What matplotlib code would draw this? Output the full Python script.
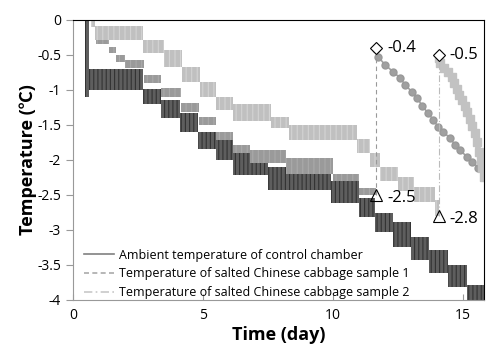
import numpy as np
import matplotlib.pyplot as plt
from matplotlib.lines import Line2D

plt.rcParams['font.family'] = ['Open Sans', 'Noto Sans CJK KR', 'DejaVu Sans']
plt.rcParams['hatch.linewidth'] = 0.8

# ambient temperature of control chamber: step bands (start day, low, high)
amb_start = [0.45, 0.6, 2.7, 3.4, 4.1, 4.8, 5.5, 6.15, 7.5, 9.9, 11.0, 11.6, 12.3, 13.0, 13.7, 14.4, 15.15]
amb_end = 15.8
amb_low = [-1.1, -1.0, -1.2, -1.4, -1.6, -1.85, -2.0, -2.21, -2.43, -2.62, -2.81, -3.03, -3.24, -3.43, -3.61, -3.81, -4.0]
amb_high = [0.0, -0.7, -0.98, -1.14, -1.33, -1.6, -1.67, -1.86, -2.1, -2.3, -2.55, -2.76, -2.89, -3.1, -3.29, -3.5, -3.79]

# sample 1 before freezing
s1_start = [0.9, 1.4, 1.65, 2.0, 2.75, 3.4, 4.15, 4.85, 5.5, 6.15, 6.8, 8.2, 10.0, 11.0]
s1_end = 11.65
s1_low = [-0.35, -0.47, -0.6, -0.69, -0.9, -1.1, -1.31, -1.5, -1.71, -1.9, -2.04, -2.2, -2.3, -2.5]
s1_high = [-0.1, -0.38, -0.5, -0.57, -0.79, -0.97, -1.19, -1.39, -1.6, -1.79, -1.86, -1.97, -2.2, -2.4]

# sample 2 before freezing
s2_start = [0.7, 0.85, 2.7, 3.5, 4.2, 4.9, 5.5, 6.15, 7.6, 8.3, 10.9, 11.4, 11.8, 12.5, 13.1, 13.9]
s2_end = 14.05
s2_low = [-0.1, -0.28, -0.47, -0.67, -0.89, -1.1, -1.29, -1.45, -1.55, -1.71, -1.9, -2.1, -2.3, -2.45, -2.6, -2.8]
s2_high = [0.0, -0.08, -0.29, -0.43, -0.67, -0.89, -1.1, -1.2, -1.39, -1.5, -1.7, -1.9, -2.1, -2.24, -2.39, -2.57]

# after freezing
s1_after_day = [11.65, 11.73, 12.0, 12.3, 12.58, 12.77, 13.04, 13.23, 13.42, 13.65, 13.85, 14.04,
                14.23, 14.5, 14.69, 14.88, 15.15, 15.35, 15.58, 15.8]
s1_after_temp = [-0.42, -0.53, -0.64, -0.74, -0.83, -0.93, -1.03, -1.11, -1.23, -1.33, -1.43, -1.53,
                 -1.6, -1.69, -1.79, -1.86, -1.96, -2.03, -2.11, -2.22]
s2_after_day = [14.05, 14.1, 14.25, 14.4, 14.55, 14.65, 14.75, 14.85, 14.95, 15.05, 15.15, 15.25,
                15.35, 15.45, 15.52, 15.6, 15.67, 15.73, 15.8]
s2_after_temp = [-0.55, -0.62, -0.68, -0.75, -0.82, -0.9, -0.98, -1.07, -1.15, -1.23, -1.32, -1.42,
                 -1.52, -1.62, -1.75, -1.88, -2.0, -2.12, -2.25]

freeze_day = [11.65, 14.05]
freeze_temp = [-0.4, -0.5]
super_temp = [-2.5, -2.8]

labels = ['Ambient temperature of control chamber',
          'Temperature of salted Chinese cabbage sample 1',
          'Temperature of salted Chinese cabbage sample 2']


def band(ax, start, end, low, high, face, edge, hatch):
    x = np.append(start, end)
    lo = np.append(low, low[-1])
    hi = np.append(high, high[-1])
    ax.fill_between(x, lo, hi, step='post', facecolor=face, edgecolor=edge,
                    hatch=hatch, linewidth=0)


fig = plt.figure(figsize=(4.96, 3.57), dpi=100)
ax = fig.add_axes([0.147, 0.160, 0.829, 0.784])

band(ax, amb_start, amb_end, amb_low, amb_high, '#5e5e5e', '#333333', '||||')
band(ax, s1_start, s1_end, s1_low, s1_high, '#9a9a9a', '#aaaaaa', '|||')
band(ax, s2_start, s2_end, s2_low, s2_high, '#c0c0c0', '#d4d4d4', '|||')

ax.plot(s1_after_day, s1_after_temp, color='#a0a0a0', lw=1.2, marker='o', ms=5, mec='#999999')
ax.plot(s2_after_day, s2_after_temp, color='#c2c2c2', lw=4, marker='s', ms=6, mec='#c2c2c2')

# freezing jumps
ax.plot([freeze_day[0]] * 2, [super_temp[0], freeze_temp[0]], color='#999999', lw=0.8, ls=(0, (4, 3)))
ax.plot([freeze_day[1]] * 2, [super_temp[1], freeze_temp[1]], color='#bbbbbb', lw=0.8, ls=(0, (6, 2, 1, 2)))

ax.plot(freeze_day, freeze_temp, ls='none', marker='D', ms=6.5, mfc='white', mec='black', mew=0.8)
ax.plot(freeze_day, super_temp, ls='none', marker='^', ms=9, mfc='none', mec='black', mew=0.8)
for d, t in zip(freeze_day, freeze_temp):
    ax.annotate('%.1f' % t, (d, t), xytext=(8, 0), textcoords='offset points', va='center', fontsize=12)
for d, t in zip(freeze_day, super_temp):
    ax.annotate('%.1f' % t, (d, t), xytext=(8, -2), textcoords='offset points', va='center', fontsize=12)

ax.set_xlim(0, 15.8)
ax.set_ylim(-4, 0)
ax.set_xticks([0, 5, 10, 15])
ax.set_yticks(np.arange(-4, 0.01, 0.5))
ax.set_yticklabels(['-4', '-3.5', '-3', '-2.5', '-2', '-1.5', '-1', '-0.5', '0'])
ax.tick_params(axis='x', direction='in', length=4, color='#999999', labelsize=10, pad=6)
ax.tick_params(axis='y', direction='out', length=5, color='#999999', labelsize=10)
ax.spines['left'].set_color('#999999')
ax.spines['bottom'].set_color('#999999')
ax.spines['top'].set_color('black')
ax.spines['right'].set_color('black')

ax.set_xlabel('Time (day)', fontsize=13, fontweight='bold', labelpad=2)
ax.set_ylabel('Temperature (℃)', fontsize=13, fontweight='bold', labelpad=0)

handles = [Line2D([], [], color='#808080', lw=1.2),
           Line2D([], [], color='#aaaaaa', lw=1.2, ls=(0, (3, 2))),
           Line2D([], [], color='#c8c8c8', lw=1.2, ls=(0, (5, 2, 1, 2)))]
ax.legend(handles, labels, loc='lower left', bbox_to_anchor=(0.015, -0.015), frameon=False,
          fontsize=9, handlelength=2.4, handletextpad=0.4, labelspacing=0.45, borderaxespad=0)

fig.savefig('out.png', dpi=100)
